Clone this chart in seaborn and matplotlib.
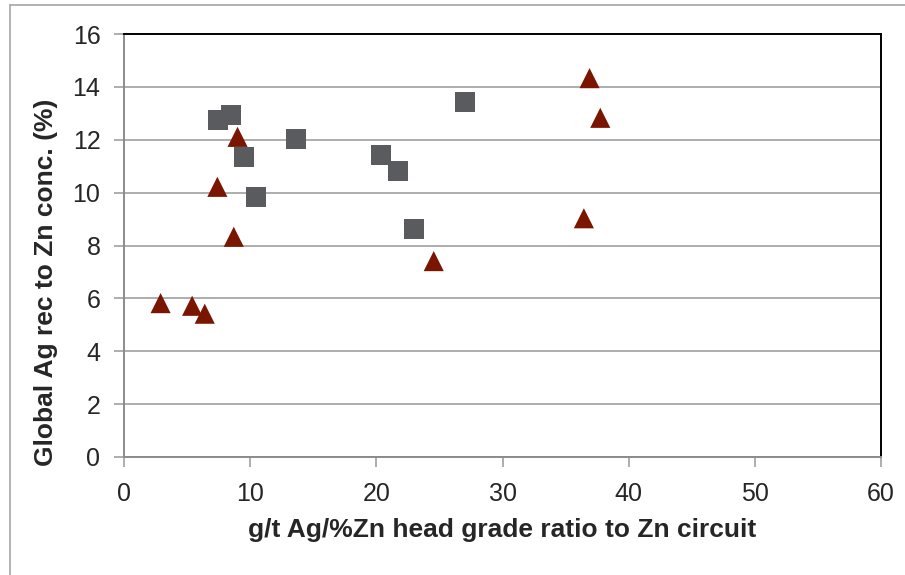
import seaborn as sns
import numpy as np
import pandas as pd
from matplotlib import pyplot as plt

# data
sq_x = [7.45, 8.5, 9.5, 10.45, 13.6, 20.4, 21.7, 23.0, 27.0]
sq_y = [12.75, 12.93, 11.35, 9.83, 12.03, 11.42, 10.82, 8.62, 13.43]
tri_x = [2.9, 5.4, 6.4, 7.4, 9.0, 8.7, 24.55, 36.45, 37.75, 36.9]
tri_y = [5.82, 5.72, 5.42, 10.22, 12.11, 8.33, 7.41, 9.03, 12.83, 14.33]
x_ticks = [0, 10, 20, 30, 40, 50, 60]
y_ticks = [0, 2, 4, 6, 8, 10, 12, 14, 16]

df = pd.DataFrame({
    'x': sq_x + tri_x,
    'y': sq_y + tri_y,
    'series': ['sq'] * len(sq_x) + ['tri'] * len(tri_x),
})

sns.set_style('white')
plt.rcParams['font.family'] = ['Liberation Sans', 'DejaVu Sans']

fig = plt.figure(figsize=(9.05, 5.75), dpi=100)
ax = fig.add_axes([124 / 905, 1 - 457 / 575, (881 - 124) / 905, (457 - 34) / 575])

# partial chart-area border (left and top visible)
fig.add_artist(plt.Line2D([9.5 / 905, 9.5 / 905], [0, 1 - 4.5 / 575], color='#a6a6a6', lw=1.2))
fig.add_artist(plt.Line2D([9.5 / 905, 1], [1 - 4.5 / 575, 1 - 4.5 / 575], color='#a6a6a6', lw=1.2))

sns.scatterplot(data=df, x='x', y='y', hue='series', style='series',
                palette={'sq': '#5a5b5e', 'tri': '#7a1500'},
                markers={'sq': 's', 'tri': '^'},
                s=210, linewidth=0, legend=False, ax=ax, zorder=3)

ax.set_xlim(0, 60)
ax.set_ylim(0, 16)
ax.set_xticks(x_ticks)
ax.set_yticks(y_ticks)
ax.yaxis.grid(True, color='#a0a0a0', lw=1.2)
ax.set_axisbelow(True)
ax.tick_params(axis='both', direction='out', length=7, width=1.2, color='#a0a0a0',
               labelsize=18, left=True, bottom=True)
ax.tick_params(axis='y', pad=10)
ax.tick_params(axis='x', pad=11)
for s in ['left', 'bottom']:
    ax.spines[s].set_color('#8c8c8c')
    ax.spines[s].set_linewidth(1.4)
for s in ['top', 'right']:
    ax.spines[s].set_color('black')
    ax.spines[s].set_linewidth(1.4)

ax.set_xlabel('g/t Ag/%Zn head grade ratio to Zn circuit', fontsize=19, fontweight='bold', labelpad=9)
ax.set_ylabel('Global Ag rec to Zn conc. (%)', fontsize=19, fontweight='bold')
# the y title sits a bit below the plot centre in the original
ax.yaxis.set_label_coords(-0.087, 0.414)

plt.savefig('out.png', dpi=100)
